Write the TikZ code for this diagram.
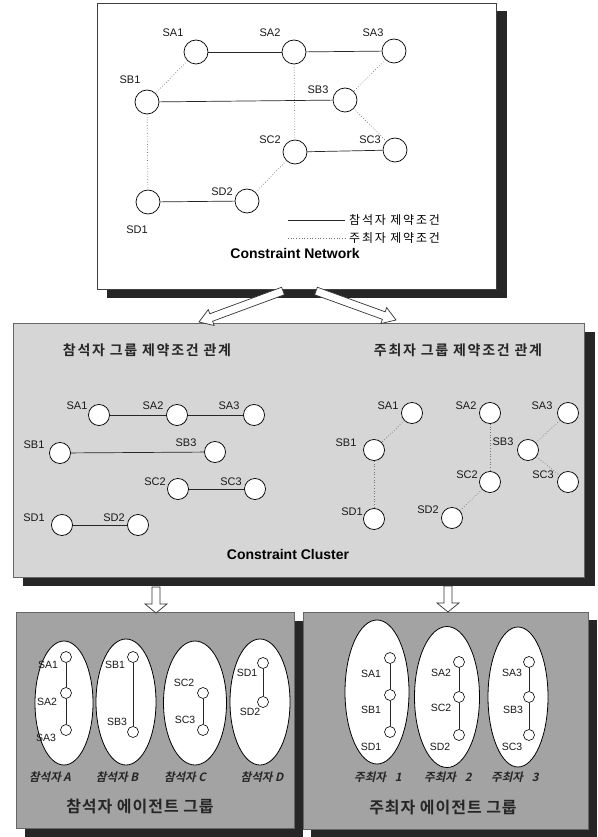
\documentclass[tikz,border=0pt]{standalone}
\usepackage{fontspec}
\setmainfont{Liberation Sans}
\newfontfamily\kr{Noto Sans CJK KR}[LetterSpace=15]
\newfontfamily\krb{Noto Sans CJK KR Bold}[LetterSpace=12]
\newfontfamily\krt{Noto Sans CJK KR Bold}[LetterSpace=6]
\newfontfamily\krit{Noto Sans CJK KR Bold}[FakeSlant=0.22]
\usetikzlibrary{calc,shapes.geometric}
\newcommand\blockarrow[5]{%
  \coordinate (ba-h) at ($(#2)!#3!(#1)$);
  \draw[arrowbox] ($(#1)!#4!90:(#2)$) -- ($(ba-h)!#4!-90:(#1)$) -- ($(ba-h)!#5!-90:(#1)$) -- (#2)
    -- ($(ba-h)!#5!90:(#1)$) -- ($(ba-h)!#4!90:(#1)$) -- ($(#1)!#4!-90:(#2)$) -- cycle;}
\begin{document}
\begin{tikzpicture}[x=1pt,y=-1pt,
  shadowfill/.style={fill=black!85},
  toppanel/.style={fill=white, draw=black!75, line width=0.8pt},
  midpanel/.style={fill=black!16, draw=black!60, line width=0.6pt},
  botpanel/.style={fill=black!36, draw=black!60, line width=0.6pt},
  arrowbox/.style={fill=white, draw=black!80, line width=0.7pt, line join=miter},
  bigc/.style={circle, draw=black, fill=white, line width=0.7pt, minimum size=24pt, inner sep=0pt},
  midc/.style={circle, draw=black, fill=white, line width=0.75pt, minimum size=21pt, inner sep=0pt},
  smallc/.style={circle, draw=black, fill=white, line width=0.6pt, minimum size=11pt, inner sep=0pt},
  oval/.style={ellipse, draw=black, fill=white, line width=0.8pt, inner sep=0pt},
  lbl/.style={font=\fontsize{11}{11}\selectfont, inner sep=0pt, text=black!90},
  slbl/.style={font=\fontsize{10.5}{10.5}\selectfont, inner sep=0pt, text=black!90},
  title/.style={font=\fontsize{14}{14}\selectfont\bfseries, inner sep=0pt},
  solidc/.style={draw=black!85, line width=0.7pt},
  dotc/.style={draw=black!55, line width=0.7pt, dotted},
  krhead/.style={font=\krb\fontsize{14}{14}\selectfont, inner sep=0pt, text=black!85},
  krleg/.style={font=\kr\fontsize{12}{12}\selectfont, inner sep=0pt, anchor=west},
  kritl/.style={font=\krit\fontsize{11.5}{11.5}\selectfont, inner sep=0pt, text=black!85},
  krgrp/.style={font=\krt\fontsize{16}{16}\selectfont, inner sep=0pt, text=black!85}
]
\useasboundingbox (0,0) rectangle (597,837);

% ---------------- top panel ----------------
\fill[shadowfill] (107,11) rectangle (507,298);
\draw[toppanel] (97,3) rectangle (496,289);

\node[bigc] (tSA1) at (196,52) {};
\node[bigc] (tSA2) at (294,52) {};
\node[bigc] (tSA3) at (394,51) {};
\node[bigc] (tSB1) at (147,102) {};
\node[bigc] (tSB3) at (345,100) {};
\node[bigc] (tSC2) at (295,152) {};
\node[bigc] (tSC3) at (395,150) {};
\node[bigc] (tSD1) at (148,202) {};
\node[bigc] (tSD2) at (247,201) {};

\node[lbl] (ltSA1) at (173,33) {SA1};
\node[lbl] (ltSA2) at (270,33) {SA2};
\node[lbl] (ltSA3) at (373,33) {SA3};
\node[lbl] (ltSB1) at (130,80) {SB1};
\node[lbl] (ltSB3) at (318,90) {SB3};
\node[lbl] (ltSC2) at (270,140) {SC2};
\node[lbl] (ltSC3) at (370,140) {SC3};
\node[lbl] (ltSD1) at (137,230) {SD1};
\node[lbl] (ltSD2) at (222,192) {SD2};

\draw[solidc] (tSA1) -- (tSA2);
\draw[solidc] (tSA2) -- (tSA3);
\draw[solidc] (tSB1) -- (tSB3);
\draw[solidc] (tSC2) -- (tSC3);
\draw[solidc] (tSD1) -- (tSD2);
\draw[dotc] (tSA1) -- (tSB1);
\draw[dotc] (tSB1) -- (tSD1);
\draw[dotc] (tSA2) -- (tSC2);
\draw[dotc] (tSA3) -- (tSB3);
\draw[dotc] (tSB3) -- (tSC3);
\draw[dotc] (tSC2) -- (tSD2);

\coordinate (lg1a) at (288,220); \coordinate (lg1b) at (345,220);
\coordinate (lg2a) at (288,238); \coordinate (lg2b) at (345,238);
\draw[solidc] (lg1a) -- (lg1b);
\draw[dotc] (lg2a) -- (lg2b);
\node[krleg] (leg1) at (349,220) {참석자 제약조건};
\node[krleg] (leg2) at (349,238) {주최자 제약조건};
\node[title] (tnet) at (295,253) {Constraint Network};

% ---------------- middle panel ----------------
\fill[shadowfill] (23,332) rectangle (595,586);
\draw[midpanel] (13,323) rectangle (584,577);

\node[krhead] (mhL) at (147,350) {참석자 그룹 제약조건 관계};
\node[krhead] (mhR) at (458,350) {주최자 그룹 제약조건 관계};

\node[midc] (mlSA1) at (99,415) {};
\node[midc] (mlSA2) at (177,415) {};
\node[midc] (mlSA3) at (254,415) {};
\node[midc] (mlSB1) at (60,453) {};
\node[midc] (mlSB3) at (215,452) {};
\node[midc] (mlSC2) at (178,489) {};
\node[midc] (mlSC3) at (255,489) {};
\node[midc] (mlSD1) at (62,525) {};
\node[midc] (mlSD2) at (138,525) {};
\node[lbl] (lmlSA1) at (77,406) {SA1};
\node[lbl] (lmlSA2) at (153,406) {SA2};
\node[lbl] (lmlSA3) at (229,406) {SA3};
\node[lbl] (lmlSB1) at (34,445) {SB1};
\node[lbl] (lmlSB3) at (186,443) {SB3};
\node[lbl] (lmlSC2) at (155,482) {SC2};
\node[lbl] (lmlSC3) at (231,482) {SC3};
\node[lbl] (lmlSD1) at (34,518) {SD1};
\node[lbl] (lmlSD2) at (114,518) {SD2};
\draw[solidc] (mlSA1) -- (mlSA2);
\draw[solidc] (mlSA2) -- (mlSA3);
\draw[solidc] (mlSB1) -- (mlSB3);
\draw[solidc] (mlSC2) -- (mlSC3);
\draw[solidc] (mlSD1) -- (mlSD2);

\node[midc] (mrSA1) at (412,413) {};
\node[midc] (mrSA2) at (490,413) {};
\node[midc] (mrSA3) at (568,413) {};
\node[midc] (mrSB1) at (374,450) {};
\node[midc] (mrSB3) at (528,450) {};
\node[midc] (mrSC2) at (490,482) {};
\node[midc] (mrSC3) at (568,482) {};
\node[midc] (mrSD1) at (374,519) {};
\node[midc] (mrSD2) at (452,518) {};
\node[lbl] (lmrSA1) at (388,406) {SA1};
\node[lbl] (lmrSA2) at (466,406) {SA2};
\node[lbl] (lmrSA3) at (542,406) {SA3};
\node[lbl] (lmrSB1) at (346,443) {SB1};
\node[lbl] (lmrSB3) at (503,442) {SB3};
\node[lbl] (lmrSC2) at (467,475) {SC2};
\node[lbl] (lmrSC3) at (543,475) {SC3};
\node[lbl] (lmrSD1) at (352,512) {SD1};
\node[lbl] (lmrSD2) at (428,510) {SD2};
\draw[dotc] (mrSA1) -- (mrSB1);
\draw[dotc] (mrSB1) -- (mrSD1);
\draw[dotc] (mrSA2) -- (mrSC2);
\draw[dotc] (mrSA3) -- (mrSB3);
\draw[dotc] (mrSB3) -- (mrSC3);
\draw[dotc] (mrSC2) -- (mrSD2);

\node[title] (tclu) at (288,554) {Constraint Cluster};

% top arrows
\coordinate (arLs) at (283,291); \coordinate (arLt) at (199,322);
\coordinate (arRs) at (316,291); \coordinate (arRt) at (396,320);
\blockarrow{arLs}{arLt}{13pt}{4pt}{8.5pt}
\blockarrow{arRs}{arRt}{13pt}{4pt}{8.5pt}

% ---------------- bottom panels ----------------
\fill[shadowfill] (25,621) rectangle (303,837);
\draw[botpanel] (16,612) rectangle (294,828);
\fill[shadowfill] (311,620) rectangle (597,837);
\draw[botpanel] (303,612) rectangle (588,829);

% down arrows
\coordinate (adLs) at (156,587); \coordinate (adLt) at (156,613);
\coordinate (adRs) at (448,586); \coordinate (adRt) at (448,612);
\blockarrow{adLs}{adLt}{9pt}{4pt}{11pt}
\blockarrow{adRs}{adRt}{9pt}{4pt}{11pt}

% left ellipses
\node[oval, minimum width=58pt, minimum height=124pt] (eA) at (64,703) {};
\node[oval, minimum width=60pt, minimum height=126pt] (eB) at (126,702) {};
\node[oval, minimum width=63pt, minimum height=124pt] (eC) at (195,703) {};
\node[oval, minimum width=60pt, minimum height=126pt] (eD) at (260,702) {};

\node[smallc] (bSA1) at (66,657) {};
\node[smallc] (bSA2) at (66,693) {};
\node[smallc] (bSA3) at (66,730) {};
\node[smallc] (bSB1) at (133,657) {};
\node[smallc] (bSB3) at (133,732) {};
\node[smallc] (bSC2) at (203,693) {};
\node[smallc] (bSC3) at (203,730) {};
\node[smallc] (bSD1) at (263,663) {};
\node[smallc] (bSD2) at (263,702) {};
\draw[solidc, line width=0.6pt] (bSA1) -- (bSA2);
\draw[solidc, line width=0.6pt] (bSA2) -- (bSA3);
\draw[solidc, line width=0.6pt] (bSB1) -- (bSB3);
\draw[solidc, line width=0.6pt] (bSC2) -- (bSC3);
\draw[solidc, line width=0.6pt] (bSD1) -- (bSD2);
\node[slbl] (lbSA1) at (48,665) {SA1};
\node[slbl] (lbSA2) at (47,702) {SA2};
\node[slbl] (lbSA3) at (46,738) {SA3};
\node[slbl] (lbSB1) at (115,665) {SB1};
\node[slbl] (lbSB3) at (117,722) {SB3};
\node[slbl] (lbSC2) at (184,683) {SC2};
\node[slbl] (lbSC3) at (185,720) {SC3};
\node[slbl] (lbSD1) at (247,673) {SD1};
\node[slbl] (lbSD2) at (250,712) {SD2};

\node[kritl] (pA) at (50,777) {참석자 A};
\node[kritl] (pB) at (117,777) {참석자 B};
\node[kritl] (pC) at (185,777) {참석자 C};
\node[kritl] (pD) at (262,777) {참석자 D};
\node[krgrp] (gL) at (140,806) {참석자 에이전트 그룹};

% right ellipses
\node[oval, minimum width=64pt, minimum height=144pt] (e1) at (377,692) {};
\node[oval, minimum width=65pt, minimum height=141pt] (e2) at (447,697) {};
\node[oval, minimum width=60pt, minimum height=140pt] (e3) at (518,697) {};

\node[smallc] (rSA1) at (390,658) {};
\node[smallc] (rSB1) at (390,695) {};
\node[smallc] (rSD1) at (390,732) {};
\node[smallc] (rSA2) at (459,662) {};
\node[smallc] (rSC2) at (459,697) {};
\node[smallc] (rSD2) at (459,735) {};
\node[smallc] (rSA3) at (529,662) {};
\node[smallc] (rSB3) at (529,697) {};
\node[smallc] (rSC3) at (529,735) {};
\draw[solidc, line width=0.6pt] (rSA1) -- (rSB1);
\draw[solidc, line width=0.6pt] (rSB1) -- (rSD1);
\draw[solidc, line width=0.6pt] (rSA2) -- (rSC2);
\draw[solidc, line width=0.6pt] (rSC2) -- (rSD2);
\draw[solidc, line width=0.6pt] (rSA3) -- (rSB3);
\draw[solidc, line width=0.6pt] (rSB3) -- (rSC3);
\node[slbl] (lrSA1) at (371,674) {SA1};
\node[slbl] (lrSB1) at (371,710) {SB1};
\node[slbl] (lrSD1) at (371,747) {SD1};
\node[slbl] (lrSA2) at (441,673) {SA2};
\node[slbl] (lrSC2) at (441,708) {SC2};
\node[slbl] (lrSD2) at (440,747) {SD2};
\node[slbl] (lrSA3) at (512,673) {SA3};
\node[slbl] (lrSB3) at (513,710) {SB3};
\node[slbl] (lrSC3) at (512,747) {SC3};

\node[kritl] (h1) at (378,777) {주최자\hspace{9pt}1};
\node[kritl] (h2) at (448,777) {주최자\hspace{9pt}2};
\node[kritl] (h3) at (515,777) {주최자\hspace{9pt}3};
\node[krgrp] (gR) at (443,807) {주최자 에이전트 그룹};
\end{tikzpicture}
\end{document}
